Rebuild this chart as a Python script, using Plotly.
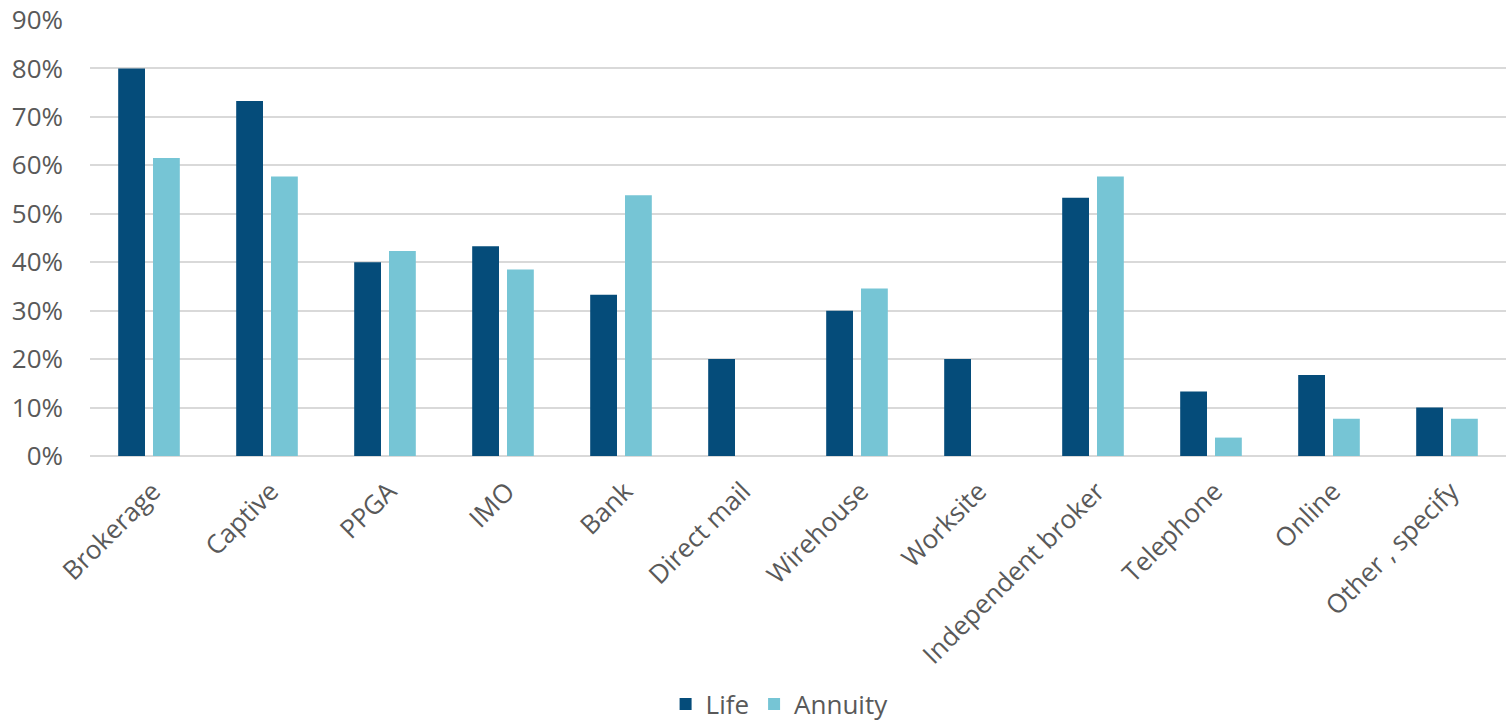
import plotly.graph_objects as go

categories = ["Brokerage", "Captive", "PPGA", "IMO", "Bank", "Direct mail", "Wirehouse",
              "Worksite", "Independent broker", "Telephone", "Online", "Other , specify"]
life = [0.80, 0.733, 0.40, 0.433, 0.333, 0.20, 0.30, 0.20, 0.533, 0.133, 0.167, 0.10]
annuity = [0.615, 0.577, 0.423, 0.385, 0.538, 0.0, 0.346, 0.0, 0.577, 0.038, 0.077, 0.077]
y_ticks = [0, 0.1, 0.2, 0.3, 0.4, 0.5, 0.6, 0.7, 0.8, 0.9]

FONT = "Open Sans"
GREY = "#595959"
FS = 26

fig = go.Figure()
fig.add_trace(go.Bar(name="Life", x=categories, y=life,
                     marker=dict(color="#054C7A", line=dict(width=0))))
fig.add_trace(go.Bar(name="Annuity", x=categories, y=annuity,
                     marker=dict(color="#76C5D5", line=dict(width=0))))

fig.update_layout(
    width=1506, height=724,
    margin=dict(l=90, r=0, t=20, b=268),
    paper_bgcolor="white", plot_bgcolor="white",
    barmode="group", bargap=0.41, bargroupgap=0.23,
    font=dict(family=FONT, color=GREY, size=FS),
    showlegend=True,
    legend=dict(orientation="h", x=0.487, xanchor="center", yref="container",
                y=1 - 704 / 724, yanchor="middle",
                font=dict(size=FS, color=GREY), traceorder="normal"),
    xaxis=dict(tickangle=-45, tickfont=dict(size=FS, color=GREY), showgrid=False,
               showline=False, ticks="", automargin=False, ticklabelstandoff=14,
               ticklabelshift=4),
    yaxis=dict(range=[0, 0.9], tickvals=y_ticks, tickformat=".0%",
               tickfont=dict(size=FS, color=GREY), showgrid=True, gridcolor="#D9D9D9",
               gridwidth=1.5, zeroline=True, zerolinecolor="#D9D9D9", zerolinewidth=1.5,
               ticks="", ticklabelstandoff=26, automargin=False,
               ticklabeloverflow="allow"),
)

fig.write_html("out.html", post_script="document.body.style.margin='0';",
               config={"displayModeBar": False})
